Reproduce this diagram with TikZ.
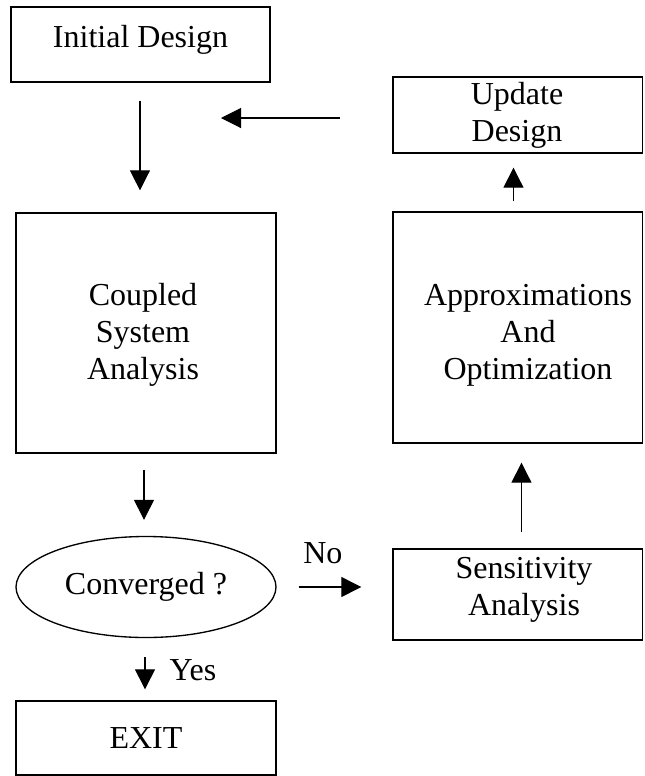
\documentclass[tikz,border=0pt]{standalone}
\usepackage{fontspec}
\setmainfont{Liberation Serif}
\usetikzlibrary{fit,shapes.geometric,arrows.meta}
\begin{document}
\begin{tikzpicture}[x=0.75pt,y=-0.75pt,
  box/.style={draw,line width=1pt,inner sep=0pt,rectangle},
  lbl/.style={font=\fontsize{24}{27.75}\selectfont,align=center,inner sep=0pt},
  arr/.style={line width=0.8pt,-{Triangle[length=15pt,width=15pt]}}]
\useasboundingbox (0,0) rectangle (644,776);
% boxes
\node[box,fit={(11,7) (270,82)}] (init) {};
\node[lbl] (initT) at (140.5,40) {Initial Design};
\node[box,fit={(393,77) (642.5,153)}] (update) {};
\node[lbl] (updateT) at (517,115) {Update\\Design};
\node[box,fit={(16,213) (276,453)}] (coupled) {};
\node[lbl] (coupledT) at (143,335) {Coupled\\System\\Analysis};
\node[box,fit={(393,212) (642.5,443)}] (approx) {};
\node[lbl] (approxT) at (528,335) {Approximations\\And\\Optimization};
\node[draw,line width=1pt,ellipse,inner sep=0pt,minimum width=195pt,minimum height=75.75pt,
      font=\fontsize{24}{27.75}\selectfont] (conv) at (146,587) {Converged ?};
\node[box,fit={(393,549) (642.5,640)}] (sens) {};
\node[lbl] (sensT) at (524,590) {Sensitivity\\Analysis};
\node[box,fit={(16,701) (276,775)}] (exit) {};
\node[lbl] (exitT) at (146,738) {EXIT};
% connectors
\coordinate (fb) at (221,118);
\draw[arr,shorten <=13.5pt,shorten >=16.5pt] ([xshift=-0.4pt]init.south) -- ([xshift=-0.4pt]init.south |- coupled.north);
\draw[arr,shorten <=39.5pt] (update.west |- fb) -- (fb);
\draw[arr,shorten <=7.5pt,shorten >=10.5pt] ([xshift=-3.2pt]approx.north) -- ([xshift=-3.2pt]update.south);
\draw[arr,shorten <=12pt,shorten >=12pt] ([xshift=-1.5pt]coupled.south) -- ([xshift=-1.5pt]conv.north);
\draw[arr,shorten <=16.5pt,shorten >=23.25pt] (conv.east) -- (conv.east -| sens.west)
  node[lbl,pos=0.4,yshift=25.5pt] (no) {No};
\draw[arr,shorten <=12pt,shorten >=14.25pt] ([xshift=2.8pt]sens.north) -- ([xshift=2.8pt]approx.south);
\draw[arr,shorten <=14.25pt,shorten >=8.25pt] ([xshift=-0.75pt]conv.south) -- ([xshift=-0.75pt]exit.north)
  node[lbl,pos=0.52,xshift=36pt] (yes) {Yes};
\end{tikzpicture}
\end{document}
